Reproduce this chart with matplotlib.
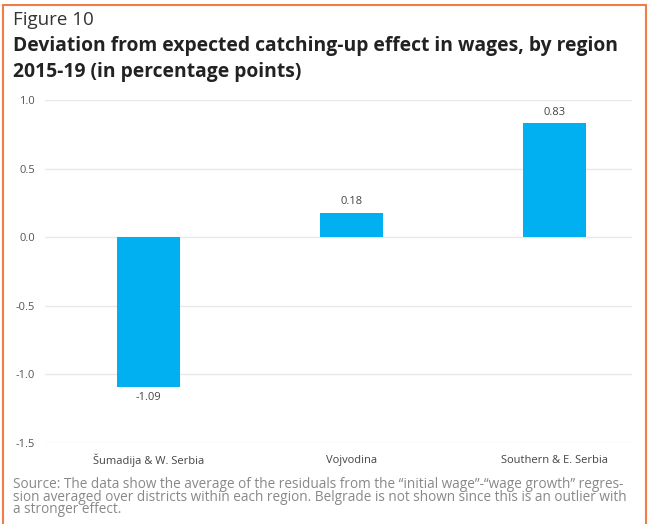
import matplotlib.pyplot as plt
from matplotlib.patches import Rectangle

regions = ["Šumadija & W. Serbia", "Vojvodina", "Southern & E. Serbia"]
deviation = [-1.09, 0.18, 0.83]
y_ticks = [-1.5, -1.0, -0.5, 0.0, 0.5, 1.0]

plt.rcParams['font.family'] = ['Open Sans', 'DejaVu Sans']

fig = plt.figure(figsize=(6.51, 5.24), dpi=100)

# orange frame round the whole figure
fig.patches.append(Rectangle((3 / 651, -0.05), 643 / 651, 1.05 - 5 / 524,
                             transform=fig.transFigure, fill=False,
                             edgecolor='#F07D45', linewidth=1.5))

fig.text(13 / 651, 1 - 20 / 524, "Figure 10", fontsize=13.5, color='#333333',
         va='center', ha='left')
fig.text(13 / 651, 1 - 46 / 524,
         "Deviation from expected catching-up effect in wages, by region",
         fontsize=13.9, fontweight='bold', color='#222222', va='center', ha='left')
fig.text(13 / 651, 1 - 72 / 524, "2015-19 (in percentage points)",
         fontsize=13.9, fontweight='bold', color='#222222', va='center', ha='left')

ax = fig.add_axes([45 / 651, 1 - 443 / 524, 587 / 651, 343 / 524])
x = range(len(regions))
ax.bar(x, deviation, width=0.31, color='#00B0F0', zorder=3)
ax.set_ylim(-1.5, 1.0)
ax.set_xlim(-0.51, 2.38)
ax.set_yticks(y_ticks)
ax.set_yticklabels([f"{v:.1f}" for v in y_ticks])
ax.yaxis.grid(True, color='#E8E8E8', linewidth=1)
ax.set_axisbelow(True)
ax.tick_params(axis='both', length=0, labelsize=8, labelcolor='#555555')
ax.tick_params(axis='y', pad=7)
ax.set_xticks([])
for s in ax.spines.values():
    s.set_visible(False)

for xi, v in zip(x, deviation):
    off = 8 if v >= 0 else -8
    ax.annotate(f"{v:.2f}", (xi, v), xytext=(0, off), textcoords='offset points',
                ha='center', va='center', fontsize=8, color='#444444')

for xi, name in zip(x, regions):
    ax.annotate(name, (xi, -1.5), xytext=(0, -12.5), textcoords='offset points',
                ha='center', va='center', fontsize=8, color='#444444')

source = ("Source: The data show the average of the residuals from the \u201cinitial wage\u201d-\u201cwage growth\u201d regres-\n"
          "sion averaged over districts within each region. Belgrade is not shown since this is an outlier with\n"
          "a stronger effect.")
fig.text(13 / 651, 1 - 477 / 524, source, fontsize=9.8, color='#888888',
         va='top', ha='left', linespacing=0.78)

fig.savefig("out.png", dpi=100)
